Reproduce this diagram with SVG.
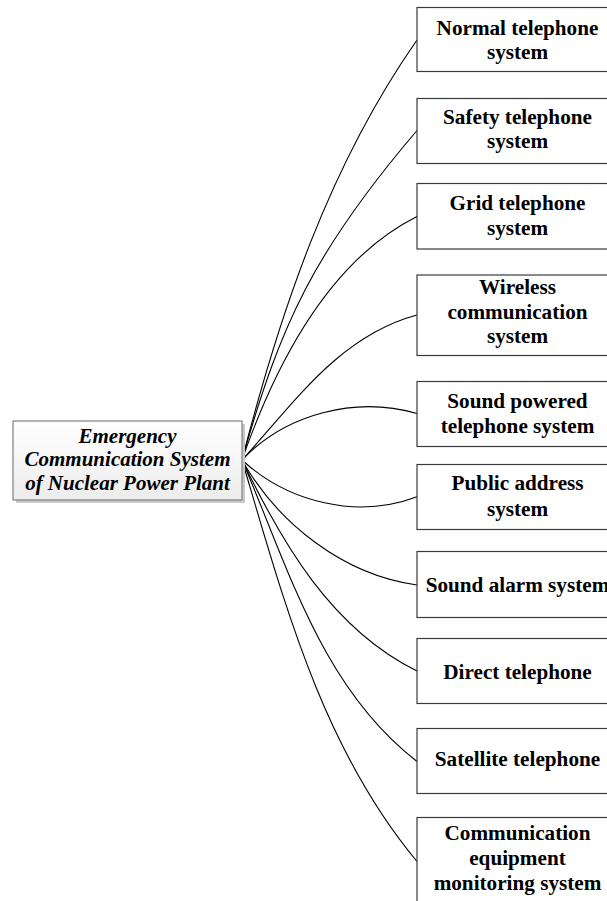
<svg xmlns="http://www.w3.org/2000/svg" width="607" height="901" viewBox="0 0 607 901">
<defs>
<linearGradient id="g" x1="0" y1="0" x2="0" y2="1">
<stop offset="0" stop-color="#ffffff"/>
<stop offset="1" stop-color="#ececec"/>
</linearGradient>
</defs>
<style>
.box{fill:#ffffff;stroke:#3a3a3a;stroke-width:1.2}
.t{font-family:"Liberation Serif","Times New Roman",serif;font-weight:bold;font-size:21.2px;fill:#000;text-anchor:middle}
.ti{font-style:italic;font-size:21px}
.c{fill:none;stroke:#000;stroke-width:1.1}
</style>
<rect width="607" height="901" fill="#ffffff"/>
<g id="connectors">
<path class="c" d="M242,460 C279.9,312.4 329.3,165.3 417,40"/>
<path class="c" d="M242,460 C280.3,324.7 313.4,251.8 417,130.5"/>
<path class="c" d="M242,460 C273.7,369.2 326.7,261.6 417,216.5"/>
<path class="c" d="M242,460 C293.8,403.4 338.9,335.9 417,315"/>
<path class="c" d="M242,460 C285.8,413.4 355.8,395.9 417,413.5"/>
<path class="c" d="M242,460 C288.1,502.4 357.4,519.4 417,496.8"/>
<path class="c" d="M242,460 C278,523.9 344.2,575.2 417,585"/>
<path class="c" d="M242,460 C282,543.1 331.5,628.8 417,671"/>
<path class="c" d="M242,460 C288.2,566.7 320.9,687.3 417,761.5"/>
<path class="c" d="M242,460 C283.7,600.1 321.4,746.6 417,861.5"/>
</g>
<g id="center">
<rect x="16" y="424" width="229" height="79" fill="#c8c8c8"/>
<rect x="13" y="421" width="229" height="79" fill="url(#g)" stroke="#808080" stroke-width="1.2"/>
<text class="t ti" x="127.5" y="442.5">Emergency</text>
<text class="t ti" x="127.5" y="466">Communication System</text>
<text class="t ti" x="127.5" y="490">of Nuclear Power Plant</text>
</g>
<g id="normal">
<rect class="box" x="417" y="7.5" width="201" height="64"/>
<text class="t" x="517.5" y="35">Normal telephone</text>
<text class="t" x="517.5" y="59">system</text>
</g>
<g id="safety">
<rect class="box" x="417" y="98.5" width="201" height="65"/>
<text class="t" x="517.5" y="124">Safety telephone</text>
<text class="t" x="517.5" y="148">system</text>
</g>
<g id="grid">
<rect class="box" x="417" y="183.5" width="201" height="65.5"/>
<text class="t" x="517.5" y="210">Grid telephone</text>
<text class="t" x="517.5" y="234.5">system</text>
</g>
<g id="wireless">
<rect class="box" x="417" y="275" width="201" height="80.5"/>
<text class="t" x="517.5" y="294">Wireless</text>
<text class="t" x="517.5" y="318.5">communication</text>
<text class="t" x="517.5" y="342.5">system</text>
</g>
<g id="soundpowered">
<rect class="box" x="417" y="381.5" width="201" height="65"/>
<text class="t" x="517.5" y="408">Sound powered</text>
<text class="t" x="517.5" y="432.5">telephone system</text>
</g>
<g id="publicaddress">
<rect class="box" x="417" y="464.5" width="201" height="65"/>
<text class="t" x="517.5" y="490">Public address</text>
<text class="t" x="517.5" y="515.5">system</text>
</g>
<g id="soundalarm">
<rect class="box" x="417" y="551.5" width="201" height="66"/>
<text class="t" x="517.5" y="591.5">Sound alarm system</text>
</g>
<g id="direct">
<rect class="box" x="417" y="638.5" width="201" height="65"/>
<text class="t" x="517.5" y="678.5">Direct telephone</text>
</g>
<g id="satellite">
<rect class="box" x="417" y="728.5" width="201" height="65"/>
<text class="t" x="517.5" y="766">Satellite telephone</text>
</g>
<g id="monitoring">
<rect class="box" x="417" y="817.5" width="201" height="88"/>
<text class="t" x="517.5" y="840">Communication</text>
<text class="t" x="517.5" y="865">equipment</text>
<text class="t" x="517.5" y="889.5">monitoring system</text>
</g>
</svg>
